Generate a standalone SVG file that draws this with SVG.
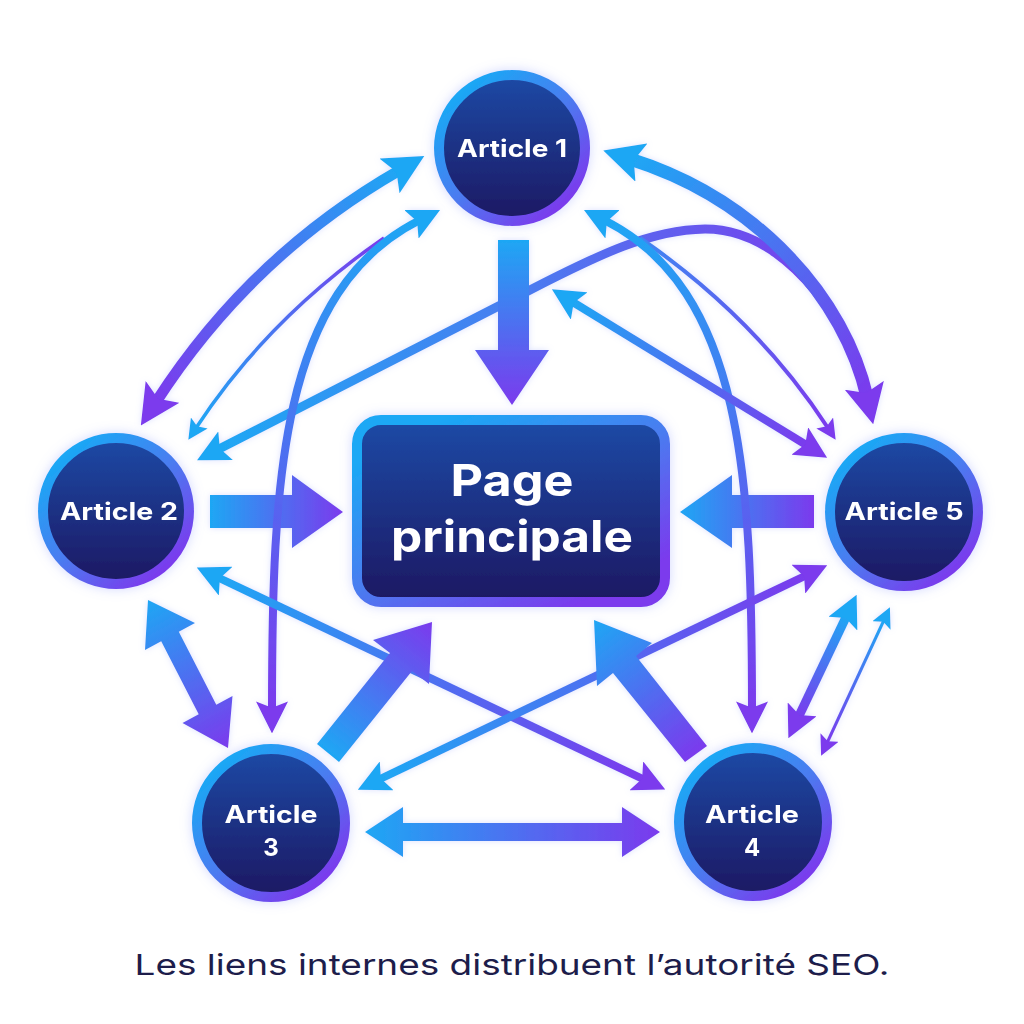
<svg xmlns="http://www.w3.org/2000/svg" width="1024" height="1024" viewBox="0 0 1024 1024">
<style>
.lbl{font-family:Inter,"Open Sans","Liberation Sans",sans-serif;font-weight:700;fill:#ffffff;text-anchor:middle}
.cap{font-family:Inter,"Open Sans","Liberation Sans",sans-serif;font-weight:400;fill:#1d1d4b;text-anchor:middle}
.ln{fill:none;stroke-linecap:butt}
</style>
<defs>
<linearGradient id="ring" x1="0.15" y1="0.1" x2="0.85" y2="0.9"><stop offset="0" stop-color="#1aa8f5"/><stop offset="0.5" stop-color="#4a7cf0"/><stop offset="1" stop-color="#7b3aed"/></linearGradient>
<linearGradient id="fillg" x1="0" y1="0" x2="0" y2="1"><stop offset="0" stop-color="#1f4aa6"/><stop offset="1" stop-color="#1b1862"/></linearGradient>
<filter id="glow" x="-30%" y="-30%" width="160%" height="160%"><feGaussianBlur in="SourceAlpha" stdDeviation="6" result="b"/><feFlood flood-color="#8f9cff" flood-opacity="0.4"/><feComposite in2="b" operator="in"/><feMerge><feMergeNode/><feMergeNode in="SourceGraphic"/></feMerge></filter>
<filter id="glow2" x="-20%" y="-20%" width="140%" height="140%"><feGaussianBlur in="SourceAlpha" stdDeviation="3" result="b"/><feFlood flood-color="#9aa8ff" flood-opacity="0.35"/><feComposite in2="b" operator="in"/><feMerge><feMergeNode/><feMergeNode in="SourceGraphic"/></feMerge></filter>
<marker id="mCL" viewBox="0 0 10 10" refX="3" refY="5" markerWidth="40" markerHeight="40" markerUnits="userSpaceOnUse" orient="auto-start-reverse"><path d="M0,0 L10,5 L0,10 L2,5 z" fill="#1ea7f4"/></marker>
<marker id="mPL" viewBox="0 0 10 10" refX="3" refY="5" markerWidth="40" markerHeight="40" markerUnits="userSpaceOnUse" orient="auto-start-reverse"><path d="M0,0 L10,5 L0,10 L2,5 z" fill="#7b3aed"/></marker>
<marker id="mCM" viewBox="0 0 10 10" refX="3" refY="5" markerWidth="32" markerHeight="32" markerUnits="userSpaceOnUse" orient="auto-start-reverse"><path d="M0,0 L10,5 L0,10 L2,5 z" fill="#1ea7f4"/></marker>
<marker id="mPM" viewBox="0 0 10 10" refX="3" refY="5" markerWidth="32" markerHeight="32" markerUnits="userSpaceOnUse" orient="auto-start-reverse"><path d="M0,0 L10,5 L0,10 L2,5 z" fill="#7b3aed"/></marker>
<marker id="mCS" viewBox="0 0 10 10" refX="3" refY="5" markerWidth="20" markerHeight="20" markerUnits="userSpaceOnUse" orient="auto-start-reverse"><path d="M0,0 L10,5 L0,10 L2,5 z" fill="#1ea7f4"/></marker>
<marker id="mPS" viewBox="0 0 10 10" refX="3" refY="5" markerWidth="20" markerHeight="20" markerUnits="userSpaceOnUse" orient="auto-start-reverse"><path d="M0,0 L10,5 L0,10 L2,5 z" fill="#7b3aed"/></marker>
<linearGradient id="g1" gradientUnits="userSpaceOnUse" x1="512" y1="240" x2="512" y2="405"><stop offset="0" stop-color="#1ea7f4"/><stop offset="1" stop-color="#7b3aed"/></linearGradient>
<linearGradient id="g2" gradientUnits="userSpaceOnUse" x1="210" y1="512" x2="343" y2="512"><stop offset="0" stop-color="#1ea7f4"/><stop offset="1" stop-color="#7b3aed"/></linearGradient>
<linearGradient id="g3" gradientUnits="userSpaceOnUse" x1="680" y1="512" x2="814" y2="512"><stop offset="0" stop-color="#1ea7f4"/><stop offset="1" stop-color="#7b3aed"/></linearGradient>
<linearGradient id="g4" gradientUnits="userSpaceOnUse" x1="328" y1="753" x2="432" y2="622"><stop offset="0" stop-color="#1ea7f4"/><stop offset="1" stop-color="#7b3aed"/></linearGradient>
<linearGradient id="g5" gradientUnits="userSpaceOnUse" x1="594" y1="620" x2="696" y2="754"><stop offset="0" stop-color="#1ea7f4"/><stop offset="1" stop-color="#7b3aed"/></linearGradient>
<linearGradient id="g6" gradientUnits="userSpaceOnUse" x1="400" y1="170" x2="156" y2="402"><stop offset="0" stop-color="#1ea7f4"/><stop offset="1" stop-color="#7b3aed"/></linearGradient>
<linearGradient id="g7" gradientUnits="userSpaceOnUse" x1="384" y1="238" x2="196" y2="428"><stop offset="0" stop-color="#7b3aed"/><stop offset="1" stop-color="#1ea7f4"/></linearGradient>
<linearGradient id="g8" gradientUnits="userSpaceOnUse" x1="420" y1="220" x2="272" y2="711"><stop offset="0" stop-color="#1ea7f4"/><stop offset="1" stop-color="#7b3aed"/></linearGradient>
<linearGradient id="g9" gradientUnits="userSpaceOnUse" x1="604" y1="220" x2="752" y2="711"><stop offset="0" stop-color="#1ea7f4"/><stop offset="1" stop-color="#7b3aed"/></linearGradient>
<linearGradient id="g10" gradientUnits="userSpaceOnUse" x1="630" y1="159" x2="867" y2="397"><stop offset="0" stop-color="#1ea7f4"/><stop offset="1" stop-color="#7b3aed"/></linearGradient>
<linearGradient id="g11" gradientUnits="userSpaceOnUse" x1="217" y1="450" x2="860" y2="370"><stop offset="0" stop-color="#1ea7f4"/><stop offset="0.5" stop-color="#4a7cf0"/><stop offset="1" stop-color="#7b3aed"/></linearGradient>
<linearGradient id="g12" gradientUnits="userSpaceOnUse" x1="640" y1="238" x2="828" y2="428"><stop offset="0" stop-color="#3f86f2"/><stop offset="1" stop-color="#7b3aed"/></linearGradient>
<linearGradient id="g13" gradientUnits="userSpaceOnUse" x1="571" y1="301" x2="808" y2="446"><stop offset="0" stop-color="#1ea7f4"/><stop offset="1" stop-color="#7b3aed"/></linearGradient>
<linearGradient id="g14" gradientUnits="userSpaceOnUse" x1="148" y1="600" x2="228" y2="748"><stop offset="0" stop-color="#1ea7f4"/><stop offset="1" stop-color="#7b3aed"/></linearGradient>
<linearGradient id="g15" gradientUnits="userSpaceOnUse" x1="217" y1="577" x2="645" y2="780"><stop offset="0" stop-color="#1ea7f4"/><stop offset="1" stop-color="#7b3aed"/></linearGradient>
<linearGradient id="g16" gradientUnits="userSpaceOnUse" x1="378" y1="780" x2="807" y2="575"><stop offset="0" stop-color="#1ea7f4"/><stop offset="1" stop-color="#7b3aed"/></linearGradient>
<linearGradient id="g17" gradientUnits="userSpaceOnUse" x1="365" y1="832" x2="660" y2="832"><stop offset="0" stop-color="#1ea7f4"/><stop offset="1" stop-color="#7b3aed"/></linearGradient>
<linearGradient id="g18" gradientUnits="userSpaceOnUse" x1="847" y1="615" x2="798" y2="718"><stop offset="0" stop-color="#1ea7f4"/><stop offset="1" stop-color="#7b3aed"/></linearGradient>
<linearGradient id="g19" gradientUnits="userSpaceOnUse" x1="884" y1="620" x2="827" y2="743"><stop offset="0" stop-color="#1ea7f4"/><stop offset="1" stop-color="#7b3aed"/></linearGradient>
</defs>
<rect width="1024" height="1024" fill="#ffffff"/>
<g id="connectors" filter="url(#glow2)">
<path d="M210,495 H292 V475 L343,512 L292,548 V528 H210 Z" fill="url(#g2)"/>
<path d="M814,495 H732 V475 L680,512 L732,548 V528 H814 Z" fill="url(#g3)"/>
<path class="ln" d="M217,450 L530,290 C600,254 650,230 705,229 C770,229 830,290 858,370" stroke="url(#g11)" stroke-width="9" marker-start="url(#mCM)"/>
<path class="ln" d="M156,402 Q250,256 400,170" stroke="url(#g6)" stroke-width="11" marker-start="url(#mPL)" marker-end="url(#mCL)"/>
<path class="ln" d="M867,397 C845,300 760,200 630,159" stroke="url(#g10)" stroke-width="13" marker-start="url(#mPL)" marker-end="url(#mCL)"/>
<path class="ln" d="M384,238 Q268,318 196,428" stroke="url(#g7)" stroke-width="3.5" marker-end="url(#mCS)"/>
<path class="ln" d="M640,238 Q756,318 828,428" stroke="url(#g12)" stroke-width="4" marker-end="url(#mPS)"/>
<path class="ln" d="M272,711 C272,480 280,290 420,220" stroke="url(#g8)" stroke-width="8" marker-start="url(#mPM)" marker-end="url(#mCM)"/>
<path class="ln" d="M752,711 C752,480 744,290 604,220" stroke="url(#g9)" stroke-width="8" marker-start="url(#mPM)" marker-end="url(#mCM)"/>
<path class="ln" d="M571,301 L808,446" stroke="url(#g13)" stroke-width="8" marker-start="url(#mCM)" marker-end="url(#mPM)"/>
<path class="ln" d="M217,577 L645,780" stroke="url(#g15)" stroke-width="8" marker-start="url(#mCM)" marker-end="url(#mPM)"/>
<path class="ln" d="M378,780 L807,575" stroke="url(#g16)" stroke-width="8" marker-start="url(#mCM)" marker-end="url(#mPM)"/>
<path class="ln" d="M847,615 L798,718" stroke="url(#g18)" stroke-width="9" marker-start="url(#mCM)" marker-end="url(#mPM)"/>
<path class="ln" d="M884,620 L827,743" stroke="url(#g19)" stroke-width="3" marker-start="url(#mCS)" marker-end="url(#mPS)"/>
<path d="M498,240 H529 V350 H549 L512,405 L475,350 H498 Z" fill="url(#g1)"/>
<path d="M317,744 L390,653 L373,640 L432,622 L429,684 L412,671 L339,762 Z" fill="url(#g4)"/>
<path d="M685,762 L613,673 L597,686 L594,620 L652,643 L636,656 L707,746 Z" fill="url(#g5)"/>
<path d="M148,600 L195,623 L178.8,631.7 L216.3,704.7 L232.5,696 L228,748 L182.5,723 L198.7,714.3 L161.2,641.3 L145,650 Z" fill="url(#g14)"/>
<path d="M365,832 L403,807 V823 H622 V807 L660,832 L622,857 V841 H403 V857 Z" fill="url(#g17)"/>
</g>
<g id="page" filter="url(#glow)">
<rect x="357" y="420" width="308" height="182" rx="24" fill="url(#fillg)" stroke="url(#ring)" stroke-width="10"/>
<text class="lbl" x="512" y="496" font-size="44" textLength="123" lengthAdjust="spacingAndGlyphs">Page</text>
<text class="lbl" x="512" y="552" font-size="44" textLength="242" lengthAdjust="spacingAndGlyphs">principale</text>
</g>
<g id="article1" filter="url(#glow)">
<circle cx="512" cy="148" r="73" fill="url(#fillg)" stroke="url(#ring)" stroke-width="10"/>
<text class="lbl" x="512" y="157" font-size="24" textLength="110" lengthAdjust="spacingAndGlyphs">Article 1</text>
</g>
<g id="article2" filter="url(#glow)">
<circle cx="116" cy="511" r="73" fill="url(#fillg)" stroke="url(#ring)" stroke-width="10"/>
<text class="lbl" x="119" y="520" font-size="24" textLength="118" lengthAdjust="spacingAndGlyphs">Article 2</text>
</g>
<g id="article5" filter="url(#glow)">
<circle cx="904" cy="512" r="74" fill="url(#fillg)" stroke="url(#ring)" stroke-width="10"/>
<text class="lbl" x="904" y="520" font-size="24" textLength="119" lengthAdjust="spacingAndGlyphs">Article 5</text>
</g>
<g id="article3" filter="url(#glow)">
<circle cx="271" cy="823" r="74" fill="url(#fillg)" stroke="url(#ring)" stroke-width="10"/>
<text class="lbl" x="271" y="823" font-size="24" textLength="93" lengthAdjust="spacingAndGlyphs">Article</text>
<text class="lbl" x="271" y="856" font-size="24">3</text>
</g>
<g id="article4" filter="url(#glow)">
<circle cx="753" cy="822" r="74" fill="url(#fillg)" stroke="url(#ring)" stroke-width="10"/>
<text class="lbl" x="752" y="823" font-size="24" textLength="94" lengthAdjust="spacingAndGlyphs">Article</text>
<text class="lbl" x="752" y="856" font-size="24">4</text>
</g>
<text class="cap" x="512" y="975" font-size="29" textLength="755" lengthAdjust="spacingAndGlyphs">Les liens internes distribuent l’autorité SEO.</text>
</svg>
